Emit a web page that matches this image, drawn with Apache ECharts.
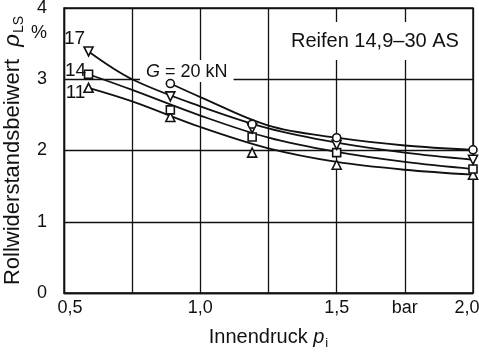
<!DOCTYPE html>
<html><head><meta charset="utf-8">
<script src="https://cdn.jsdelivr.net/npm/echarts@6/dist/echarts.min.js"></script>
<style>html,body{margin:0;padding:0;background:#fff}#c{width:479px;height:352px}</style>
</head><body><div id="c"></div>
<script>
// Rolling resistance coefficient vs. inflation pressure, tyre 14.9-30 AS.
// Measured points per wheel load (kN)
const pressure = [0.59, 0.89, 1.19, 1.5, 2.0];          // bar
const load11 = [2.88, 2.47, 1.97, 1.80, 1.66];          // %
const load14 = [3.07, 2.57, 2.19, 1.97, 1.74];
const load17 = [3.39, 2.76, 2.31, 2.08, 1.87];
const load20 = [null, 2.94, 2.37, 2.18, 2.01];
// Balancing curves drawn through the measured points
const curvePressure = [0.59, 0.75, 1.0, 1.25, 1.5, 1.75, 2.0];
const curve11 = [2.88, 2.69, 2.33, 2.03, 1.84, 1.73, 1.66];
const curve14 = [3.07, 2.85, 2.49, 2.18, 1.98, 1.84, 1.74];
const curve17 = [3.39, 3.00, 2.62, 2.31, 2.11, 1.97, 1.87];
const curve20Pressure = [0.89, 1.0, 1.25, 1.5, 1.75, 2.0];
const curve20 = [2.94, 2.75, 2.35, 2.18, 2.07, 2.01];
const xTickLabels = {'0.5': '{l|0,5}', '1': '1,0', '1.5': '1,5', '1.75': 'bar', '2': '{r|2,0}'};
const yTickLabels = ['0', '1', '2', '3', '4'];
const curveLabels = ['11', '14', '17'];
const loadLabel = '{g|G} = 20 kN';
const tyreText = 'Reifen 14,9\u201330 AS';

const FONT = 'Liberation Sans';
const INK = '#111';

function pairs(xs, ys) {
  const out = [];
  xs.forEach((x, i) => { if (ys[i] != null) out.push([x, ys[i]]); });
  return out;
}

function curveLine(xs, ys) {
  return {
    type: 'line', data: pairs(xs, ys), smooth: 0.35, symbol: 'none',
    lineStyle: {color: INK, width: 1.8}, z: 3, silent: true
  };
}

function points(values, symbol, rotate, size, text, offset) {
  const data = pairs(pressure, values);
  if (text) {
    data[0] = {
      value: data[0],
      label: {
        show: true, position: 'inside', offset: offset, formatter: text,
        color: INK, fontFamily: FONT, fontSize: 19
      }
    };
  }
  return {
    type: 'scatter', data: data,
    symbol: symbol, symbolRotate: rotate, symbolSize: size,
    itemStyle: {color: '#fff', borderColor: INK, borderWidth: 1.6, opacity: 1},
    z: 5, silent: true
  };
}

const chart = echarts.init(document.getElementById('c'), null, {renderer: 'canvas'});
chart.setOption({
  animation: false,
  backgroundColor: '#fff',
  grid: {
    left: 64, right: 6, top: 8, bottom: 59, containLabel: false, outerBoundsMode: 'none',
    show: true, borderColor: INK, borderWidth: 1.4
  },
  xAxis: {
    type: 'value', min: 0.5, max: 2.0, interval: 0.25,
    axisLine: {lineStyle: {color: INK, width: 1.4}},
    axisTick: {show: false},
    splitLine: {lineStyle: {color: INK, width: 1.3}},
    axisLabel: {
      color: INK, fontFamily: FONT, fontSize: 18, margin: 6,
      formatter: v => xTickLabels[String(v)] || '',
      showMinLabel: true, showMaxLabel: true, hideOverlap: false,
      rich: {
        l: {fontFamily: FONT, fontSize: 18, color: INK, padding: [0, 0, 0, 12]},
        r: {fontFamily: FONT, fontSize: 18, color: INK, padding: [0, 12, 0, 0]}
      }
    },
    name: 'Innendruck {p|p}{s|i}', nameLocation: 'middle', nameGap: 32,
    nameTextStyle: {
      color: INK, fontFamily: FONT, fontSize: 20,
      rich: {
        p: {fontFamily: FONT, fontSize: 20, fontStyle: 'italic', color: INK},
        s: {fontFamily: FONT, fontSize: 13, color: INK, padding: [12, 0, 0, 1]}
      }
    }
  },
  yAxis: {
    type: 'value', min: 0, max: 4, interval: 1,
    axisLine: {show: true, lineStyle: {color: INK, width: 1.4}},
    axisTick: {show: false},
    splitLine: {lineStyle: {color: INK, width: 1.3}},
    axisLabel: {
      color: INK, fontFamily: FONT, fontSize: 18, margin: 17,
      formatter: v => yTickLabels[Math.round(v)]
    },
    name: 'Rollwiderstandsbeiwert  {p|\u03c1}{s|LS}', nameLocation: 'middle', nameGap: 31,
    nameTextStyle: {
      color: INK, fontFamily: FONT, fontSize: 22,
      rich: {
        p: {fontFamily: FONT, fontSize: 22, fontStyle: 'italic', color: INK},
        s: {fontFamily: FONT, fontSize: 14, color: INK, padding: [12, 0, 0, 1]}
      }
    }
  },
  graphic: [
    {
      type: 'text', left: 31, top: 24, z: 5,
      style: {text: '%', fill: INK, fontFamily: FONT, fontSize: 18}
    },
    {
      type: 'text', left: 282, top: 22, z: 1,
      style: {
        text: tyreText, fill: INK, fontFamily: FONT, fontSize: 20,
        backgroundColor: '#fff', padding: [9, 9, 9, 9]
      }
    },
    {
      type: 'text', left: 140, top: 60, z: 1,
      style: {
        text: loadLabel, fill: INK, fontFamily: FONT, fontSize: 18,
        backgroundColor: '#fff', padding: [3, 6, 1, 6],
        rich: {g: {fontFamily: FONT, fontSize: 18, fontStyle: 'italic', fill: INK}}
      }
    }
  ],
  series: [
    curveLine(curvePressure, curve11),
    curveLine(curvePressure, curve14),
    curveLine(curvePressure, curve17),
    curveLine(curve20Pressure, curve20),
    points(load11, 'triangle', 0, 9, curveLabels[0], [-13, 5]),
    points(load14, 'rect', 0, 8, curveLabels[1], [-13, -3]),
    points(load17, 'triangle', 180, 9, curveLabels[2], [-14, -13]),
    points(load20, 'circle', 0, 8, null, null)
  ]
});
</script></body></html>
